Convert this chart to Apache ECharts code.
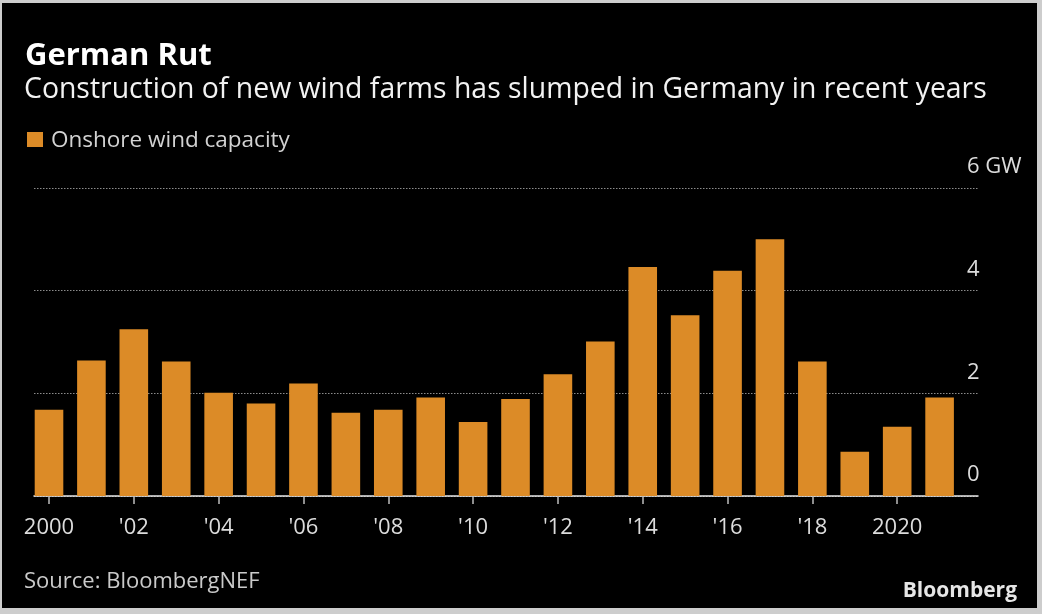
<!DOCTYPE html>
<html>
<head>
<meta charset="utf-8">
<script src="https://cdn.jsdelivr.net/npm/echarts@6/dist/echarts.min.js"></script>
<style>
  html, body { margin: 0; padding: 0; background: #cdcdcd; }
  #bg { position: absolute; left: 2px; top: 3px; width: 1035px; height: 605px; background: #000; }
  #chart { position: absolute; left: 0; top: 0; width: 1042px; height: 614px; }
</style>
</head>
<body>
<div id="bg"></div>
<div id="chart"></div>
<script>
// ---- data ----
const years = ['2000','2001','2002','2003','2004','2005','2006','2007','2008','2009','2010',
               '2011','2012','2013','2014','2015','2016','2017','2018','2019','2020','2021'];
const capacityGW = [1.68, 2.64, 3.25, 2.62, 2.01, 1.80, 2.19, 1.62, 1.68, 1.92, 1.44,
                    1.89, 2.37, 3.01, 4.46, 3.52, 4.39, 5.00, 2.62, 0.86, 1.35, 1.92];
const xTickLabels = { '2000': '2000', '2002': "'02", '2004': "'04", '2006': "'06", '2008': "'08",
                      '2010': "'10", '2012': "'12", '2014': "'14", '2016': "'16", '2018': "'18", '2020': '2020' };
const yTickLabels = { 0: '0', 2: '2', 4: '4', 6: '6 GW' };
const titleText = 'German Rut';
const subtitleText = 'Construction of new wind farms has slumped in Germany in recent years';
const legendText = 'Onshore wind capacity';
const sourceText = 'Source: BloombergNEF';

const FONT = '"Open Sans", "Noto Sans", "DejaVu Sans", sans-serif';
const ORANGE = '#dc8b27';

const chart = echarts.init(document.getElementById('chart'), null, { renderer: 'canvas' });

const option = {
  backgroundColor: 'transparent',
  animation: false,
  textStyle: { fontFamily: FONT },
  grid: [
    { left: 34, right: 64, top: 188, bottom: 118, containLabel: false },
    { left: 27.8, width: 933, top: 188, bottom: 118, containLabel: false }
  ],
  xAxis: [
    {
      gridIndex: 0, type: 'category', data: [''],
      axisLine: { show: true, lineStyle: { color: '#e8e8e8', width: 1.5 } },
      axisTick: { show: false }, axisLabel: { show: false }, splitLine: { show: false }
    },
    {
      gridIndex: 1, type: 'category', data: years,
      axisLine: { show: false },
      axisTick: { show: true, interval: 1, alignWithLabel: true, length: 8,
                  lineStyle: { color: '#bdbdbd', width: 1.5 } },
      axisLabel: {
        interval: 1, margin: 21, color: '#dcdcdc', fontSize: 22, fontFamily: FONT,
        lineHeight: 22,
        formatter: v => xTickLabels[v] || ''
      },
      splitLine: { show: false }
    }
  ],
  yAxis: [
    {
      gridIndex: 0, type: 'value', position: 'right', min: 0, max: 6, interval: 2,
      axisLine: { show: false }, axisTick: { show: false },
      axisLabel: {
        margin: -11, align: 'left', verticalAlign: 'bottom', lineHeight: 42,
        color: '#dcdcdc', fontSize: 22, fontFamily: FONT,
        formatter: v => yTickLabels[v] !== undefined ? yTickLabels[v] : ''
      },
      splitLine: { show: true, lineStyle: { color: '#8c8c8c', width: 1, type: [1.5, 1.5] } }
    },
    {
      gridIndex: 1, type: 'value', min: 0, max: 6, interval: 2, show: false
    }
  ],
  series: [
    {
      name: legendText, type: 'bar', xAxisIndex: 1, yAxisIndex: 1,
      data: capacityGW, barWidth: 28.6,
      itemStyle: { color: ORANGE },
      z: 1
    }
  ],
  graphic: [
    { type: 'text', left: 25, top: 41, style: { text: titleText, fill: '#ffffff',
      font: 'bold 31px ' + FONT } },
    { type: 'text', left: 24, top: 76, style: { text: subtitleText, fill: '#f2f2f2',
      font: '28.4px ' + FONT } },
    { type: 'rect', shape: { x: 27, y: 132, width: 16, height: 15 }, style: { fill: ORANGE } },
    { type: 'text', left: 51, top: 129, style: { text: legendText, fill: '#d2d2d2',
      font: '22.5px ' + FONT } },
    { type: 'text', left: 24, top: 571, style: { text: sourceText, fill: '#cacaca',
      font: '22px ' + FONT } },
    { type: 'text', right: 25, top: 581, style: { text: 'Bloomberg', fill: '#e6e6e6',
      font: 'bold 21px ' + FONT } }
  ]
};

chart.setOption(option);
</script>
</body>
</html>
